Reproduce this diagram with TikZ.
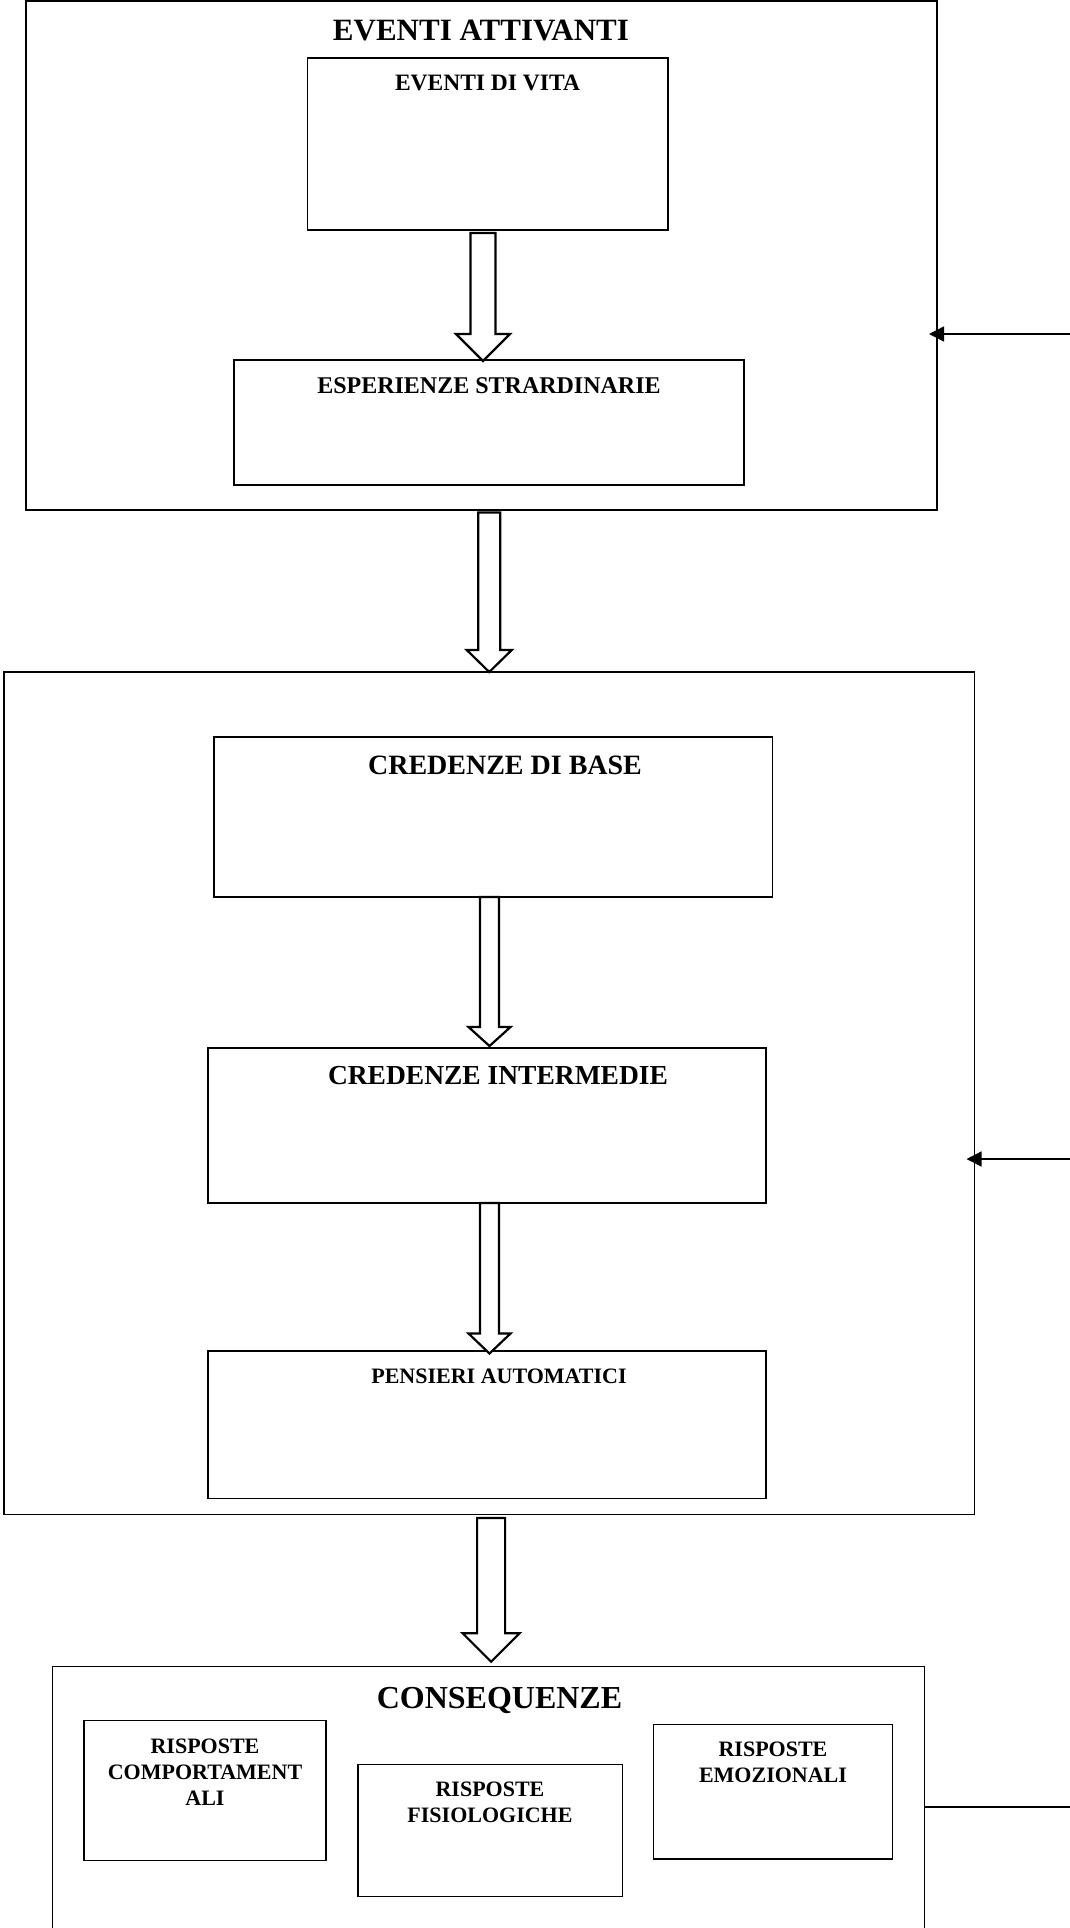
\documentclass[tikz,border=0pt]{standalone}
\usepackage{fontspec}
\setmainfont{Liberation Serif}
\usetikzlibrary{calc,arrows.meta}

% hollow block arrow: #1 start, #2 tip, #3 shaft half-width, #4 head half-width, #5 head length
\newcommand\bigarrow[5]{%
  \draw[blockarrow]
    ($(#1 -| #2)+(-#3,0)$) -- ($(#1 -| #2)+(#3,0)$) -- ($(#2)+(#3,-#5)$) --
    ($(#2)+(#4,-#5)$) -- (#2) -- ($(#2)+(-#4,-#5)$) -- ($(#2)+(-#3,-#5)$) -- cycle;}

\begin{document}
\begin{tikzpicture}[x=1pt,y=-1pt,
  box/.style={draw, rectangle, line width=1.2pt, inner sep=0pt, outer sep=0pt},
  ttl/.style={anchor=north, inner sep=0pt, font=\bfseries\fontsize{#1}{#1}\selectfont},
  mtxt/.style={anchor=north, inner sep=0pt, align=center, font=\bfseries\fontsize{22}{26}\selectfont},
  blockarrow/.style={draw, fill=white, line width=2.2pt, line join=miter},
  fb/.style={line width=1.4pt, -{Triangle[length=15pt,width=15pt]}, shorten >=-8pt},
  fbline/.style={line width=2pt}]

\fill[white] (0,0) rectangle (1070,1928);
\useasboundingbox (0,0) rectangle (1070,1928);

% activating events
\node[box, minimum width=911pt, minimum height=509pt] (b1) at (481.5,255.5) {};
\node[box, minimum width=360.5pt, minimum height=172pt] (vita) at (487.75,144) {};
\node[box, minimum width=510pt, minimum height=125pt] (esp) at (489,422.5) {};
\node[ttl=31] (t1) at (481,20) {EVENTI ATTIVANTI};
\node[ttl=23.5] (t2) at (487.5,75) {EVENTI DI VITA};
\node[ttl=24] (t3) at (489,377.7) {ESPERIENZE STRARDINARIE};

% beliefs
\node[box, minimum width=970.5pt, minimum height=842.5pt] (b2) at (489.25,1093.25) {};
\node[box, minimum width=558.5pt, minimum height=160pt] (base) at (493.25,817) {};
\node[box, minimum width=558pt, minimum height=155pt] (inter) at (487,1125.5) {};
\node[box, minimum width=558pt, minimum height=147.5pt] (auto) at (487,1424.75) {};
\node[ttl=28] (t4) at (505,756) {CREDENZE DI BASE};
\node[ttl=27.5] (t5) at (498,1066) {CREDENZE INTERMEDIE};
\node[ttl=22] (t6) at (499,1368.5) {PENSIERI AUTOMATICI};

% consequences
\node[box, minimum width=872pt, minimum height=273.3pt] (b3) at (488.6,1803.35) {};
\node[box, minimum width=242pt, minimum height=140pt] (comp) at (205,1790.7) {};
\node[box, minimum width=264.4pt, minimum height=132.4pt] (fisio) at (490.2,1830.5) {};
\node[box, minimum width=238.9pt, minimum height=134.3pt] (emo) at (773.15,1791.85) {};
\node[ttl=32] (t7) at (499.5,1686.7) {CONSEQUENZE};
\node[mtxt] (t8) at (205,1738.3) {RISPOSTE\\COMPORTAMENT\\ALI};
\node[mtxt] (t9) at (490,1781.7) {RISPOSTE\\FISIOLOGICHE};
\node[mtxt] (t10) at (773,1741.7) {RISPOSTE\\EMOZIONALI};

% block arrows between stages
\coordinate (a1s) at ([yshift=-3pt]vita.south);
\coordinate (a1t) at ([xshift=-6pt,yshift=-1pt]esp.north);
\bigarrow{a1s}{a1t}{12.5}{27}{27}

\coordinate (a2s) at ([yshift=-2.5pt]b1.south);
\coordinate (a2t) at (b2.north);
\bigarrow{a2s}{a2t}{11}{22.5}{22}

\coordinate (a3s) at (base.south);
\coordinate (a3t) at ([xshift=2.5pt,yshift=2pt]inter.north);
\bigarrow{a3s}{a3t}{9.5}{21}{19}

\coordinate (a4s) at (inter.south);
\coordinate (a4t) at ([xshift=2.5pt,yshift=-2.5pt]auto.north);
\bigarrow{a4s}{a4t}{9.5}{21}{20}

\coordinate (a5s) at ([yshift=-3.5pt]b2.south);
\coordinate (a5t) at ([xshift=2.5pt,yshift=5pt]b3.north);
\bigarrow{a5s}{a5t}{14}{28.5}{28.5}

% feedback lines on the right
\coordinate (f1) at (1070,334);
\draw[fb] (f1) -- (f1 -| b1.east);
\coordinate (f2) at (1070,1159);
\draw[fb] (f2) -- (f2 -| b2.east);
\coordinate (f3) at (1070,1806.7);
\draw[fbline] (b3.east |- f3) -- (f3);

\end{tikzpicture}
\end{document}
